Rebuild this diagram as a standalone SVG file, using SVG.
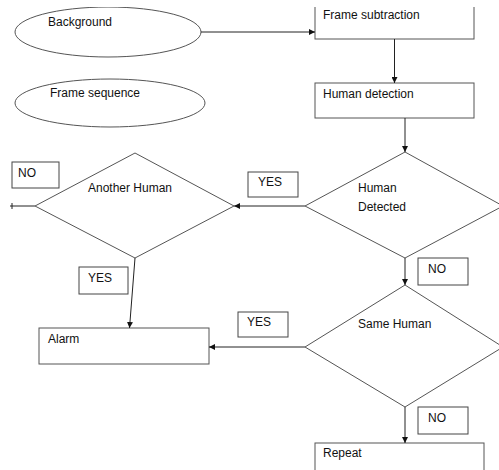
<svg xmlns="http://www.w3.org/2000/svg" width="499" height="470" viewBox="0 0 499 470">
<style>
.shape{fill:#fff;stroke:#555;stroke-width:1}
.lbl{fill:#fff;stroke:#444;stroke-width:1}
.conn{fill:none;stroke:#222;stroke-width:1}
text{font-family:"Liberation Sans",Arial,sans-serif;font-size:12px;fill:#111}
</style>
<defs>
<marker id="ah" viewBox="0 0 10 10" refX="10" refY="5" markerWidth="6" markerHeight="6" markerUnits="userSpaceOnUse" orient="auto">
<path d="M0,0 L10,5 L0,10 z" fill="#111"/>
</marker>
<clipPath id="clip"><rect x="0" y="7" width="499" height="463"/></clipPath>
</defs>
<rect width="499" height="470" fill="#fff"/>
<g clip-path="url(#clip)">
<g id="background">
<ellipse class="shape" cx="108" cy="32" rx="93" ry="25"/>
<text x="48" y="26">Background</text>
</g>
<g id="frame-subtraction">
<rect class="shape" x="315" y="-20" width="159" height="59"/>
<text x="323" y="19">Frame subtraction</text>
</g>
</g>
<g id="frame-sequence">
<ellipse class="shape" cx="110" cy="103" rx="95" ry="24"/>
<text x="50" y="97">Frame sequence</text>
</g>
<g id="human-detection">
<rect class="shape" x="315" y="83" width="159" height="35"/>
<text x="323" y="98">Human detection</text>
</g>
<g id="human-detected">
<polygon class="shape" points="405,152 503,206 405,258 305,206"/>
<text x="358" y="192">Human</text>
<text x="358" y="211">Detected</text>
</g>
<g id="another-human">
<polygon class="shape" points="135,153 234,206 135,258 35,206"/>
<text x="88" y="192">Another Human</text>
</g>
<g id="same-human">
<polygon class="shape" points="405,285 503,347 405,407 305,347"/>
<text x="358" y="328">Same Human</text>
</g>
<g id="alarm">
<rect class="shape" x="39" y="328" width="170" height="36"/>
<text x="48" y="343">Alarm</text>
</g>
<g id="repeat">
<rect class="shape" x="315" y="443" width="169" height="40"/>
<text x="323" y="457">Repeat</text>
</g>
<g id="connectors">
<line class="conn" x1="201" y1="32" x2="315" y2="32" marker-end="url(#ah)"/>
<line class="conn" x1="394.5" y1="39" x2="394.5" y2="83" marker-end="url(#ah)"/>
<line class="conn" x1="405" y1="118" x2="405" y2="152" marker-end="url(#ah)"/>
<line class="conn" x1="305" y1="206" x2="234" y2="206" marker-end="url(#ah)"/>
<line class="conn" x1="35" y1="206" x2="10" y2="206"/>
<line class="conn" x1="12" y1="203" x2="12" y2="209"/>
<line class="conn" x1="135" y1="258" x2="129.5" y2="328" marker-end="url(#ah)"/>
<line class="conn" x1="405" y1="258" x2="405" y2="285" marker-end="url(#ah)"/>
<line class="conn" x1="305" y1="347" x2="209" y2="347" marker-end="url(#ah)"/>
<line class="conn" x1="405" y1="407" x2="405" y2="443" marker-end="url(#ah)"/>
</g>
<g id="label-no-1">
<rect class="lbl" x="12" y="162" width="47" height="26"/>
<text x="18" y="177">NO</text>
</g>
<g id="label-yes-1">
<rect class="lbl" x="248" y="172" width="50" height="25"/>
<text x="258" y="186">YES</text>
</g>
<g id="label-yes-2">
<rect class="lbl" x="79" y="267" width="49" height="27"/>
<text x="88" y="282">YES</text>
</g>
<g id="label-no-2">
<rect class="lbl" x="418" y="258" width="50" height="27"/>
<text x="428" y="273">NO</text>
</g>
<g id="label-yes-3">
<rect class="lbl" x="238" y="312" width="50" height="25"/>
<text x="247" y="326">YES</text>
</g>
<g id="label-no-3">
<rect class="lbl" x="418" y="407" width="50" height="27"/>
<text x="428" y="422">NO</text>
</g>
</svg>
